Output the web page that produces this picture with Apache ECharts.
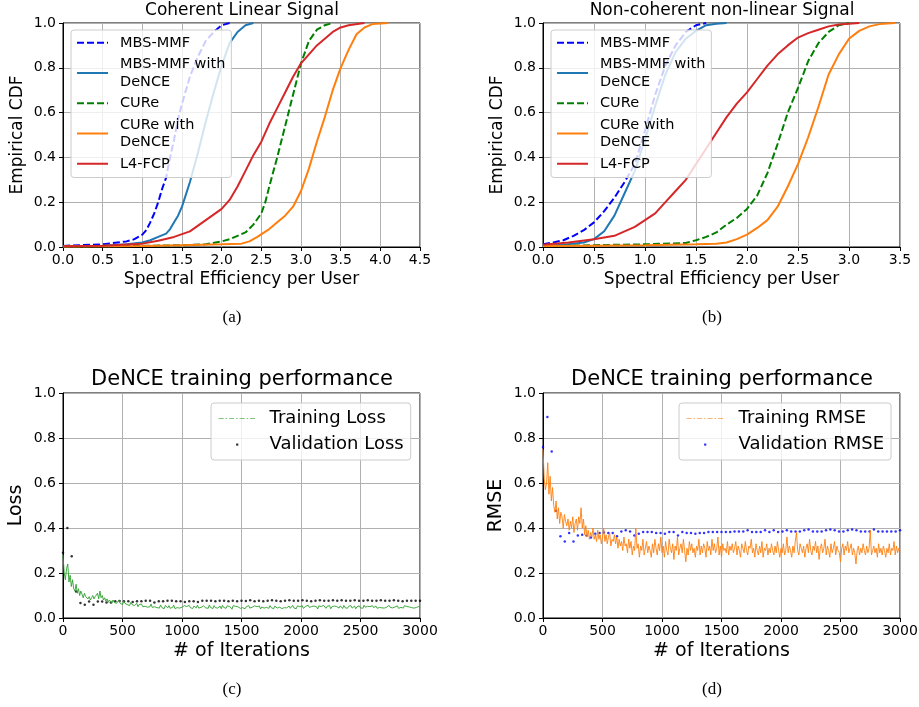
<!DOCTYPE html>
<html>
<head>
<meta charset="utf-8">
<script src="https://cdn.jsdelivr.net/npm/echarts@6.0.0/dist/echarts.min.js"></script>
<style>
  html, body { margin: 0; padding: 0; background: #fff; }
  #main { width: 919px; height: 707px; }
</style>
</head>
<body>
<div id="main"></div>
<script>
// ---- data ----
// (a) Coherent Linear Signal : empirical CDF points
var A_X_MBS   = [0,0.5,0.8,0.9,1.0,1.05,1.1,1.15,1.2,1.25,1.3,1.35,1.4,1.45,1.5,1.6,1.7,1.8,1.9,2.0,2.1];
var A_Y_MBS   = [0.005,0.012,0.025,0.035,0.055,0.075,0.11,0.15,0.2,0.26,0.31,0.4,0.48,0.57,0.64,0.76,0.85,0.92,0.96,0.99,1.0];
var A_X_MBSD  = [0,0.5,0.8,1.0,1.1,1.2,1.3,1.35,1.4,1.45,1.5,1.6,1.7,1.8,1.9,2.0,2.1,2.2,2.3,2.4];
var A_Y_MBSD  = [0.003,0.006,0.012,0.02,0.03,0.045,0.06,0.08,0.11,0.14,0.18,0.29,0.42,0.56,0.69,0.81,0.91,0.96,0.99,1.0];
var A_X_CURE  = [0,1.0,1.5,1.8,2.0,2.1,2.2,2.3,2.4,2.5,2.55,2.6,2.7,2.8,2.9,3.0,3.1,3.2,3.3,3.4];
var A_Y_CURE  = [0.002,0.005,0.008,0.012,0.025,0.035,0.05,0.065,0.1,0.15,0.2,0.27,0.4,0.54,0.68,0.82,0.92,0.97,0.99,1.0];
var A_X_CURED = [0,1.0,1.5,2.0,2.25,2.35,2.45,2.6,2.7,2.8,2.9,3.0,3.1,3.2,3.3,3.4,3.5,3.6,3.7,3.8,3.9,4.1];
var A_Y_CURED = [0.002,0.004,0.008,0.012,0.015,0.025,0.045,0.08,0.11,0.14,0.18,0.25,0.35,0.47,0.58,0.7,0.8,0.88,0.95,0.98,0.995,1.0];
var A_X_L4    = [0,0.5,1.0,1.2,1.4,1.6,1.8,2.0,2.1,2.2,2.3,2.4,2.5,2.6,2.7,2.8,2.9,3.0,3.1,3.2,3.3,3.4,3.5,3.6,3.8];
var A_Y_L4    = [0.003,0.006,0.015,0.028,0.045,0.07,0.12,0.17,0.21,0.27,0.34,0.41,0.47,0.55,0.62,0.69,0.76,0.82,0.86,0.9,0.93,0.96,0.98,0.99,1.0];

// (b) Non-coherent non-linear Signal
var B_X_MBS   = [0,0.1,0.2,0.3,0.4,0.5,0.6,0.7,0.8,0.9,1.0,1.1,1.2,1.3,1.4,1.5,1.6];
var B_Y_MBS   = [0.012,0.02,0.03,0.05,0.075,0.11,0.16,0.22,0.29,0.37,0.52,0.68,0.81,0.9,0.96,0.99,1.0];
var B_X_MBSD  = [0,0.2,0.4,0.5,0.6,0.7,0.8,0.9,1.0,1.1,1.2,1.3,1.4,1.5,1.6,1.7,1.8];
var B_Y_MBSD  = [0.005,0.01,0.02,0.035,0.07,0.14,0.24,0.34,0.48,0.63,0.77,0.87,0.93,0.965,0.99,0.997,1.0];
var B_X_CURE  = [0,0.5,1.0,1.4,1.5,1.6,1.7,1.8,1.9,2.0,2.1,2.2,2.3,2.4,2.5,2.6,2.7,2.8,2.9,3.0];
var B_Y_CURE  = [0.004,0.008,0.012,0.018,0.03,0.045,0.065,0.1,0.13,0.17,0.23,0.33,0.46,0.6,0.71,0.83,0.91,0.96,0.99,1.0];
var B_X_CURED = [0,0.5,1.0,1.5,1.7,1.8,1.9,2.0,2.1,2.2,2.3,2.4,2.5,2.6,2.7,2.8,2.9,3.0,3.1,3.2,3.3,3.45];
var B_Y_CURED = [0.004,0.006,0.008,0.012,0.014,0.02,0.035,0.055,0.085,0.12,0.18,0.27,0.37,0.49,0.625,0.77,0.86,0.93,0.965,0.985,0.995,1.0];
var B_X_L4    = [0,0.25,0.5,0.7,0.8,0.9,1.0,1.1,1.2,1.3,1.4,1.5,1.6,1.7,1.8,1.9,2.0,2.1,2.2,2.3,2.4,2.5,2.6,2.7,2.8,2.9,3.0,3.1];
var B_Y_L4    = [0.01,0.02,0.035,0.05,0.07,0.09,0.12,0.15,0.2,0.25,0.3,0.37,0.44,0.51,0.58,0.64,0.69,0.75,0.81,0.86,0.9,0.935,0.955,0.97,0.985,0.993,0.997,1.0];

// (c) / (d) training curves, one value every TRAIN_STEP iterations (0..3000)
var TRAIN_STEP = 10;
var C_TRAIN_LOSS = [
  0.28,0.20,0.17,0.22,0.24,0.16,0.19,0.14,0.17,0.13,
  0.12,0.15,0.11,0.13,0.10,0.12,0.105,0.09,0.11,0.095,
  0.10,0.085,0.095,0.08,0.09,0.10,0.085,0.095,0.09,0.11,
  0.085,0.12,0.09,0.10,0.08,0.09,0.075,0.085,0.07,0.08,
  0.075,0.065,0.08,0.07,0.075,0.065,0.07,0.08,0.065,0.07,
  0.06,0.075,0.065,0.07,0.06,0.065,0.055,0.07,0.06,0.065,
  0.055,0.06,0.065,0.05,0.06,0.055,0.062,0.05,0.058,0.052,
  0.06,0.048,0.056,0.05,0.062,0.047,0.055,0.05,0.058,0.046,
  0.052,0.044,0.058,0.047,0.053,0.041,0.056,0.049,0.045,0.055,
  0.043,0.051,0.047,0.057,0.042,0.05,0.046,0.054,0.044,0.052,
  0.048,0.04,0.055,0.047,0.051,0.043,0.056,0.046,0.05,0.042,
  0.053,0.048,0.045,0.057,0.044,0.051,0.047,0.041,0.054,0.049,
  0.045,0.052,0.043,0.058,0.047,0.05,0.042,0.055,0.046,0.051,
  0.044,0.049,0.053,0.041,0.056,0.047,0.05,0.043,0.054,0.046,
  0.051,0.045,0.039,0.055,0.048,0.052,0.044,0.05,0.057,0.043,
  0.049,0.046,0.053,0.041,0.05,0.047,0.055,0.044,0.051,0.048,
  0.042,0.054,0.046,0.05,0.045,0.053,0.04,0.049,0.056,0.044,
  0.05,0.047,0.052,0.043,0.055,0.046,0.049,0.041,0.053,0.047,
  0.044,0.051,0.048,0.054,0.042,0.05,0.046,0.052,0.045,0.048,
  0.053,0.043,0.049,0.056,0.045,0.051,0.041,0.054,0.047,0.05,
  0.046,0.055,0.043,0.049,0.052,0.044,0.057,0.047,0.042,0.051,
  0.048,0.053,0.045,0.05,0.04,0.054,0.047,0.051,0.044,0.056,
  0.049,0.043,0.052,0.046,0.055,0.041,0.05,0.048,0.053,0.045,
  0.051,0.047,0.044,0.054,0.049,0.042,0.056,0.046,0.05,0.043,
  0.052,0.048,0.055,0.044,0.047,0.053,0.041,0.05,0.046,0.054,
  0.045,0.051,0.043,0.057,0.048,0.044,0.052,0.047,0.05,0.042,
  0.055,0.046,0.049,0.053,0.043,0.051,0.047,0.054,0.045,0.05,
  0.044,0.052,0.048,0.041,0.056,0.047,0.051,0.045,0.053,0.049,
  0.046,0.054,0.043,0.05,0.047,0.052,0.044,0.055,0.048,0.051,
  0.043,0.049,0.053,0.046,0.05,0.044,0.052,0.047,0.045,0.051,
  0.048
];
var D_TRAIN_RMSE = [
  0.75,0.62,0.57,0.60,0.69,0.55,0.63,0.52,0.58,0.50,
  0.47,0.52,0.44,0.49,0.42,0.47,0.45,0.40,0.46,0.43,
  0.41,0.44,0.39,0.43,0.40,0.45,0.38,0.42,0.44,0.39,
  0.45,0.42,0.49,0.40,0.44,0.37,0.41,0.36,0.39,0.35,
  0.38,0.36,0.40,0.35,0.37,0.34,0.39,0.35,0.37,0.33,
  0.36,0.40,0.34,0.37,0.33,0.36,0.38,0.32,0.35,0.34,
  0.37,0.33,0.36,0.31,0.35,0.32,0.34,0.30,0.36,0.32,
  0.33,0.29,0.35,0.31,0.34,0.28,0.32,0.30,0.40,0.31,
  0.33,0.27,0.32,0.30,0.35,0.28,0.31,0.34,0.29,0.32,
  0.30,0.27,0.33,0.29,0.35,0.31,0.28,0.33,0.30,0.36,
  0.29,0.32,0.27,0.34,0.30,0.28,0.35,0.31,0.29,0.33,
  0.26,0.32,0.30,0.36,0.28,0.31,0.33,0.29,0.35,0.30,
  0.25,0.31,0.28,0.34,0.30,0.33,0.29,0.31,0.27,0.32,
  0.30,0.35,0.28,0.32,0.29,0.33,0.31,0.27,0.34,0.30,
  0.32,0.28,0.35,0.30,0.33,0.29,0.31,0.36,0.28,0.32,
  0.27,0.33,0.30,0.31,0.29,0.34,0.28,0.32,0.30,0.33,
  0.29,0.31,0.34,0.28,0.32,0.30,0.27,0.33,0.31,0.29,
  0.34,0.30,0.28,0.32,0.31,0.35,0.29,0.31,0.27,0.33,
  0.30,0.28,0.32,0.29,0.34,0.27,0.31,0.30,0.33,0.28,
  0.31,0.29,0.33,0.30,0.28,0.32,0.29,0.34,0.30,0.27,
  0.31,0.29,0.33,0.28,0.30,0.36,0.29,0.32,0.30,0.27,
  0.32,0.29,0.34,0.38,0.30,0.28,0.33,0.31,0.29,0.32,
  0.27,0.31,0.33,0.29,0.35,0.30,0.28,0.32,0.30,0.34,
  0.29,0.32,0.26,0.31,0.33,0.29,0.31,0.35,0.28,0.32,
  0.30,0.27,0.33,0.29,0.31,0.34,0.28,0.32,0.30,0.29,
  0.25,0.31,0.33,0.28,0.32,0.30,0.34,0.29,0.31,0.33,
  0.28,0.31,0.29,0.24,0.30,0.32,0.28,0.31,0.29,0.33,
  0.30,0.28,0.32,0.29,0.31,0.39,0.28,0.30,0.32,0.29,
  0.31,0.27,0.33,0.29,0.31,0.28,0.32,0.30,0.27,0.31,
  0.29,0.33,0.28,0.31,0.30,0.34,0.28,0.32,0.29,0.31,
  0.30
];

// validation points, one every VAL_STEP iterations
var VAL_STEP = 3000 / 82;
var C_VAL_LOSS = [
  0.29,0.40,0.274,0.118,0.067,0.059,0.073,0.059,0.073,0.073,
  0.069,0.069,0.074,0.076,0.074,0.074,0.071,0.074,0.074,0.077,
  0.077,0.069,0.074,0.074,0.077,0.077,0.074,0.074,0.071,0.074,
  0.074,0.071,0.077,0.077,0.077,0.074,0.077,0.077,0.074,0.077,
  0.074,0.077,0.076,0.079,0.074,0.077,0.074,0.077,0.079,0.077,
  0.074,0.077,0.079,0.077,0.077,0.079,0.077,0.074,0.077,0.079,
  0.077,0.077,0.079,0.077,0.079,0.077,0.077,0.079,0.077,0.077,
  0.079,0.077,0.077,0.079,0.077,0.077,0.079,0.077,0.074,0.077,
  0.077,0.077,0.077
];
var D_VAL_RMSE = [
  0.76,0.893,0.74,0.477,0.363,0.34,0.378,0.34,0.367,0.37,
  0.367,0.358,0.375,0.378,0.38,0.378,0.378,0.363,0.385,0.39,
  0.385,0.367,0.375,0.382,0.382,0.382,0.378,0.378,0.374,0.382,
  0.382,0.367,0.382,0.378,0.378,0.375,0.378,0.378,0.382,0.382,
  0.382,0.382,0.382,0.382,0.385,0.385,0.385,0.39,0.382,0.382,
  0.382,0.39,0.382,0.39,0.382,0.385,0.39,0.385,0.385,0.385,
  0.39,0.393,0.385,0.385,0.385,0.39,0.393,0.39,0.385,0.385,
  0.39,0.393,0.39,0.385,0.385,0.385,0.393,0.385,0.385,0.385,
  0.385,0.385,0.39
];

var CDF_NAMES = ['MBS-MMF', 'MBS-MMF with\nDeNCE', 'CURe', 'CURe with\nDeNCE', 'L4-FCP'];

// ---- helpers ----
var FONT = 'DejaVu Sans';

function pairs(xs, ys) {
  return xs.map(function (x, i) { return [x, ys[i]]; });
}
function stepped(vals, step) {
  return vals.map(function (v, i) { return [i * step, v]; });
}

function xAxisOf(idx, max, interval, name, nameSize, decimals) {
  return {
    type: 'value', gridIndex: idx, min: 0, max: max, interval: interval,
    name: name, nameLocation: 'middle', nameGap: 24,
    nameTextStyle: { fontFamily: FONT, fontSize: nameSize, color: '#000' },
    axisLine: { show: true, onZero: false, lineStyle: { color: '#000', width: 1 } },
    axisTick: { show: true, inside: false, length: 4, lineStyle: { color: '#000' } },
    axisLabel: {
      fontFamily: FONT, fontSize: 14, color: '#000', margin: 6,
      formatter: function (v) { return v.toFixed(decimals); }
    },
    splitLine: { show: true, lineStyle: { color: '#b0b0b0', width: 1 } }
  };
}
function yAxisOf(idx, name, nameSize, gap) {
  return {
    type: 'value', gridIndex: idx, min: 0, max: 1, interval: 0.2,
    name: name, nameLocation: 'middle', nameGap: gap,
    nameTextStyle: { fontFamily: FONT, fontSize: nameSize, color: '#000' },
    axisLine: { show: true, onZero: false, lineStyle: { color: '#000', width: 1 } },
    axisTick: { show: true, inside: false, length: 4, lineStyle: { color: '#000' } },
    axisLabel: {
      fontFamily: FONT, fontSize: 14, color: '#000', margin: 7,
      formatter: function (v) { return v.toFixed(1); }
    },
    splitLine: { show: true, lineStyle: { color: '#b0b0b0', width: 1 } }
  };
}

function cdfSeries(idx, xsList, ysList) {
  var styles = [
    { color: '#0000ff', type: [7, 3] },
    { color: '#1f77b4', type: 'solid' },
    { color: '#008000', type: [7, 3] },
    { color: '#ff7f0e', type: 'solid' },
    { color: '#d62728', type: 'solid' }
  ];
  return CDF_NAMES.map(function (name, k) {
    return {
      name: name, type: 'line', xAxisIndex: idx, yAxisIndex: idx,
      data: pairs(xsList[k], ysList[k]),
      symbol: 'none', showSymbol: false, silent: true, animation: false,
      itemStyle: { color: styles[k].color },
      lineStyle: { color: styles[k].color, width: 2, type: styles[k].type }
    };
  });
}

// line legend items: hide the symbol ECharts puts in the middle of the icon
function lineItem(name) {
  return { name: name, itemStyle: { opacity: 0 } };
}

function cdfLegend(left) {
  return {
    orient: 'vertical', left: left, top: 30,
    itemWidth: 31, itemHeight: 12, itemGap: 4,
    padding: [4, 6, 5, 5],
    backgroundColor: 'rgba(255,255,255,0.8)',
    borderColor: '#cccccc', borderWidth: 1, borderRadius: 3,
    selectedMode: false,
    textStyle: { fontFamily: FONT, fontSize: 14.5, lineHeight: 17.5, color: '#000', padding: [0, 0, 0, 7] },
    data: CDF_NAMES.map(lineItem)
  };
}

function trainLegend(left, trainName, valName, textPad) {
  return {
    orient: 'vertical', left: left, top: 403,
    itemWidth: 37, itemHeight: 14, itemGap: 5,
    padding: [5, 7, 5, 7],
    backgroundColor: 'rgba(255,255,255,0.8)',
    borderColor: '#cccccc', borderWidth: 1, borderRadius: 3,
    selectedMode: false,
    textStyle: { fontFamily: FONT, fontSize: 18, lineHeight: 21, color: '#000', padding: [0, 0, 0, textPad] },
    data: [
      { name: trainName, itemStyle: { opacity: 0 }, lineStyle: { type: [5, 2, 1.5, 2], width: 1.2, opacity: 0.6 } },
      { name: valName, icon: 'path://M0,0M37,0M37,14M0,14M17.5,6h2.2v2.2h-2.2z' }
    ]
  };
}

function titleOf(text, x, y, size) {
  return {
    text: text, left: x, top: y, textAlign: 'center', padding: 0,
    textStyle: { fontFamily: FONT, fontSize: size, fontWeight: 'normal', color: '#000' }
  };
}

function captionOf(text, x, y) {
  return {
    type: 'text', x: x, y: y, silent: true,
    style: { text: text, fontFamily: 'Liberation Serif', fontSize: 17, fill: '#000', align: 'center', verticalAlign: 'middle' }
  };
}

var chart = echarts.init(document.getElementById('main'), null, { renderer: 'canvas' });

var gridBase = { show: true, borderColor: '#000', borderWidth: 1, backgroundColor: 'transparent', containLabel: false, outerBoundsMode: 'none' };

var option = {
  backgroundColor: '#fff',
  animation: false,
  title: [
    titleOf('Coherent Linear Signal', 242, 2, 17),
    titleOf('Non-coherent non-linear Signal', 722, 2, 17),
    titleOf('DeNCE training performance', 242, 369, 21),
    titleOf('DeNCE training performance', 722, 369, 21)
  ],
  grid: [
    Object.assign({ left: 63, top: 23, width: 357, height: 224 }, gridBase),
    Object.assign({ left: 543, top: 23, width: 357, height: 224 }, gridBase),
    Object.assign({ left: 63, top: 393, width: 357, height: 225 }, gridBase),
    Object.assign({ left: 543, top: 393, width: 357, height: 225 }, gridBase)
  ],
  xAxis: [
    xAxisOf(0, 4.5, 0.5, 'Spectral Efficiency per User', 17, 1),
    xAxisOf(1, 3.5, 0.5, 'Spectral Efficiency per User', 17, 1),
    xAxisOf(2, 3000, 500, '# of Iterations', 19, 0),
    xAxisOf(3, 3000, 500, '# of Iterations', 19, 0)
  ],
  yAxis: [
    yAxisOf(0, 'Empirical CDF', 17, 37),
    yAxisOf(1, 'Empirical CDF', 17, 37),
    yAxisOf(2, 'Loss', 19, 37),
    yAxisOf(3, 'RMSE', 19, 37)
  ],
  legend: [
    cdfLegend(71),
    cdfLegend(551),
    trainLegend(211, 'Training Loss', 'Validation Loss', 9),
    trainLegend(679, 'Training RMSE', 'Validation RMSE', 10)
  ],
  graphic: [
    captionOf('(a)', 232, 318),
    captionOf('(b)', 712, 318),
    captionOf('(c)', 232, 690),
    captionOf('(d)', 712, 690)
  ],
  series: [].concat(
    cdfSeries(0, [A_X_MBS, A_X_MBSD, A_X_CURE, A_X_CURED, A_X_L4], [A_Y_MBS, A_Y_MBSD, A_Y_CURE, A_Y_CURED, A_Y_L4]),
    cdfSeries(1, [B_X_MBS, B_X_MBSD, B_X_CURE, B_X_CURED, B_X_L4], [B_Y_MBS, B_Y_MBSD, B_Y_CURE, B_Y_CURED, B_Y_L4]),
    [
      {
        name: 'Training Loss', type: 'line', xAxisIndex: 2, yAxisIndex: 2,
        data: stepped(C_TRAIN_LOSS, TRAIN_STEP),
        symbol: 'none', showSymbol: false, silent: true,
        itemStyle: { color: '#2ca02c' },
        lineStyle: { color: '#2ca02c', width: 1, type: 'solid', opacity: 0.9 }
      },
      {
        name: 'Validation Loss', type: 'scatter', xAxisIndex: 2, yAxisIndex: 2,
        data: stepped(C_VAL_LOSS, VAL_STEP),
        symbol: 'circle', symbolSize: 2.5, silent: true,
        itemStyle: { color: '#000' }
      },
      {
        name: 'Training RMSE', type: 'line', xAxisIndex: 3, yAxisIndex: 3,
        data: stepped(D_TRAIN_RMSE, TRAIN_STEP),
        symbol: 'none', showSymbol: false, silent: true,
        itemStyle: { color: '#ff7f0e' },
        lineStyle: { color: '#ff7f0e', width: 1, type: 'solid', opacity: 0.9 }
      },
      {
        name: 'Validation RMSE', type: 'scatter', xAxisIndex: 3, yAxisIndex: 3,
        data: stepped(D_VAL_RMSE, VAL_STEP),
        symbol: 'circle', symbolSize: 2.5, silent: true,
        itemStyle: { color: '#0000ff' }
      }
    ]
  )
};

chart.setOption(option);
</script>
</body>
</html>
